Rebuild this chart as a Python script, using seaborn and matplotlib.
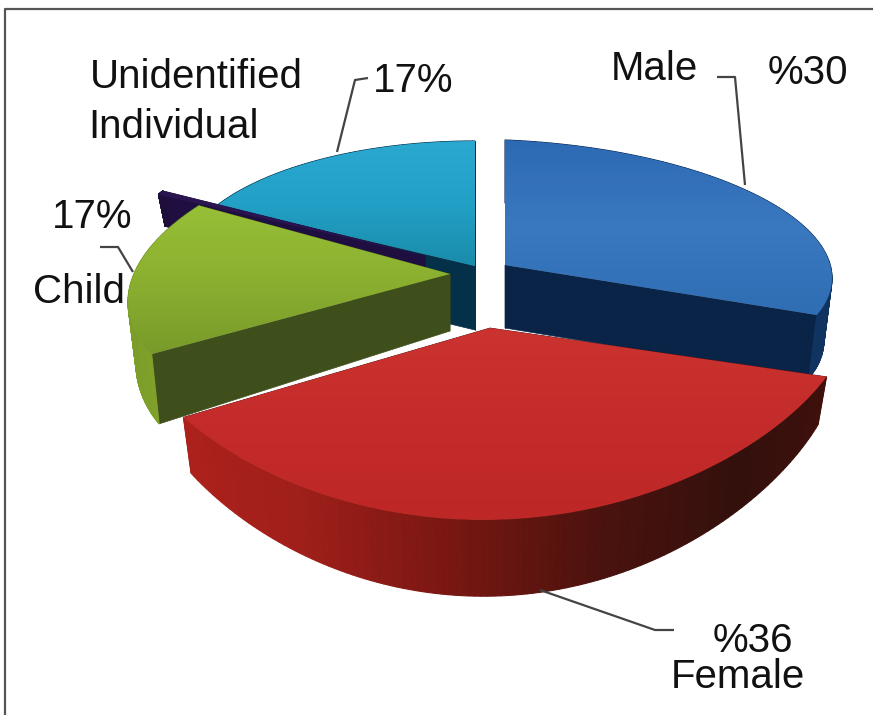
import numpy as np
import matplotlib
matplotlib.use("Agg")
import matplotlib.pyplot as plt
from matplotlib.patches import Polygon
import seaborn as sns

# slices, clockwise from twelve o'clock
names = ["Male", "Female", "Child", "sliver", "Unidentified Individual"]
values = [30, 36, 17, 0.5, 17]

# label text
label_text = ["Male", "%30", "%36", "Female", "Unidentified", "Individual", "17%", "17%", "Child"]
label_x = [611, 768, 713, 671, 90, 88, 373, 52, 33]
label_y = [80, 84, 652, 688, 88, 138, 92, 228, 303]

# leader lines
leaders = [
    [(717, 77), (735, 77), (745, 185)],
    [(368, 78), (355, 80), (337, 152)],
    [(100, 247), (118, 247), (133, 272)],
    [(540, 590), (655, 630), (674, 630)],
]

# look of each slice: apex, radii, rotation, skew, bulge, height
shape = {
    "Male": dict(cx=505, cy=265, rx=327, ry=125, rot=0, k=0.04, p=0, h=63, hs=0),
    "Female": dict(cx=490, cy=328, rx=358, ry=137, rot=-2.5, k=-0.013, p=0.4, h=38, hs=0.2),
    "Child": dict(cx=450, cy=274, rx=322, ry=144, rot=-11.5, k=-0.087, p=0, h=57, hs=0.16),
    "sliver": dict(cx=425, cy=256, rx=300, ry=134, rot=0, k=0, p=0, h=32, hs=0),
    "Unidentified Individual": dict(cx=475, cy=266, rx=295, ry=125, rot=0, k=0, p=0, h=64, hs=0),
}
lean = 0.025
top_cols = {
    "Male": ["#2d6ab4", "#3a78c0", "#2f6eb3"],
    "Female": ["#cb3330", "#c42c2b", "#bd2725"],
    "Child": ["#97bf36", "#8bb030", "#789a2a"],
    "sliver": ["#2a1550", "#2a1550"],
    "Unidentified Individual": ["#2aa8d0", "#22a0c6", "#1a8caa"],
}
rim_cols = {
    "Male": ["#0c2a55", "#103460"],
    "Female": ["#3f100c", "#33100c", "#4a120e", "#7a1712", "#a01f1a", "#ad211c"],
    "Child": ["#7fa12a", "#7a9c2a", "#64842a"],
    "sliver": ["#1d0e3a", "#1d0e3a"],
    "Unidentified Individual": ["#04304a", "#04304a"],
}
wall_col = {
    "Male": "#0a2448",
    "Female": "#5a120e",
    "Child": "#3f4f1c",
    "sliver": "#1f0f40",
    "Unidentified Individual": "#04304a",
}
draw_order = ["Unidentified Individual", "sliver", "Male", "Child", "Female"]

sns.set_theme(style="white")
fig = plt.figure(figsize=(8.73, 7.15), dpi=100)
ax = fig.add_axes([0, 0, 1, 1])

# angle range of each slice from its share of the total
total = sum(values)
ends = 90 - np.cumsum(values) / total * 360
starts = np.r_[90, ends[:-1]]


def top_xy(s, ang):
    a = np.radians(np.asarray(ang, dtype=float) + s["rot"])
    down = -np.sin(a)
    dx = s["rx"] * np.cos(a)
    dy = s["ry"] * down * (1 + s["p"] * down) + s["k"] * dx
    return s["cx"] + dx, s["cy"] + dy


def height_at(s, y):
    return s["h"] + s["hs"] * (y - s["cy"])


for name in draw_order:
    i = names.index(name)
    s = shape[name]
    ang = np.linspace(starts[i], ends[i], 120)
    x, y = top_xy(s, ang)
    # lower edge sits a little further in, the chart is drawn in perspective
    xb = x + lean * (s["cx"] - x)
    yb = y + height_at(s, y)

    # cut faces
    for j in (0, -1):
        ax.fill([s["cx"], x[j], xb[j], s["cx"]], [s["cy"], y[j], yb[j], s["cy"] + s["h"]],
                color=wall_col[name], lw=0.5, zorder=1)

    # outer rim, shaded along the arc
    cmap = sns.blend_palette(rim_cols[name], as_cmap=True)
    for j in range(len(ang) - 1):
        ax.fill([x[j], x[j + 1], xb[j + 1], xb[j]], [y[j], y[j + 1], yb[j + 1], yb[j]],
                color=cmap(j / (len(ang) - 2)), lw=0.8, zorder=1)

    # top face, gradient clipped to the wedge
    poly = Polygon(np.c_[np.r_[s["cx"], x], np.r_[s["cy"], y]], closed=True, fc="none", ec="none", zorder=1)
    ax.add_patch(poly)
    grad = np.linspace(0, 1, 256).reshape(-1, 1)
    im = ax.imshow(grad, cmap=sns.blend_palette(top_cols[name], as_cmap=True), aspect="auto",
                   extent=(min(x.min(), s["cx"]), max(x.max(), s["cx"]),
                           max(y.max(), s["cy"]), min(y.min(), s["cy"])), zorder=1)
    im.set_clip_path(poly)

for pts in leaders:
    xs, ys = zip(*pts)
    ax.plot(xs, ys, color="#444444", lw=1.6, solid_capstyle="butt", zorder=3)

for t, lx, ly in zip(label_text, label_x, label_y):
    ax.text(lx, ly, t, fontsize=29, color="#111111", family="Liberation Sans", ha="left", va="baseline", zorder=4)

# picture frame, top and left only
ax.plot([5, 5, 873], [715, 9, 9], color="#555555", lw=1.6, zorder=3)

ax.set_xlim(0, 873)
ax.set_ylim(715, 0)
ax.axis("off")
plt.savefig("out.png", dpi=100)
